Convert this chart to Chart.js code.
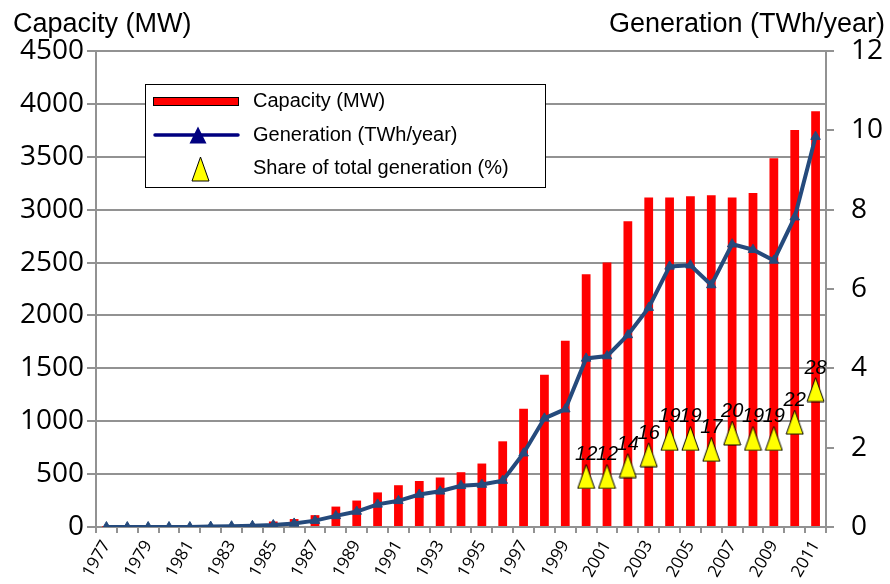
<!DOCTYPE html>
<html>
<head>
<meta charset="utf-8">
<script src="https://cdn.jsdelivr.net/npm/chart.js@4"></script>
<style>
  body { margin: 0; background: #fff; }
  canvas { display: block; }
</style>
</head>
<body>
<canvas id="myChart" width="890" height="584"></canvas>
<script>
const years = ["1977", "1978", "1979", "1980", "1981", "1982", "1983", "1984", "1985", "1986",
    "1987", "1988", "1989", "1990", "1991", "1992", "1993", "1994", "1995", "1996",
    "1997", "1998", "1999", "2000", "2001", "2002", "2003", "2004", "2005", "2006",
    "2007", "2008", "2009", "2010", "2011"];

// MW, left axis
const capacity = [2, 2, 2, 2, 3, 5, 10, 20, 52, 75,
    112, 193, 250, 327, 395, 435, 468, 518, 600, 810,
    1118, 1440, 1760, 2390, 2500, 2890, 3116, 3116, 3128, 3137,
    3116, 3157, 3485, 3752, 3931];

// TWh/year, right axis
const generation = [0, 0, 0, 0, 0, 0.01, 0.02, 0.03, 0.05, 0.09,
    0.16, 0.28, 0.39, 0.57, 0.66, 0.82, 0.9, 1.04, 1.07, 1.17,
    1.86, 2.74, 2.97, 4.25, 4.31, 4.84, 5.53, 6.57, 6.6, 6.1,
    7.13, 6.99, 6.72, 7.81, 9.84];

// % of total generation
const share = [null, null, null, null, null, null, null, null, null, null,
    null, null, null, null, null, null, null, null, null, null,
    null, null, null, 12, 12, 14, 16, 19, 19, 17,
    20, 19, 19, 22, 28];

const leftTicks = [0, 500, 1000, 1500, 2000, 2500, 3000, 3500, 4000, 4500];
const rightTicks = [0, 2, 4, 6, 8, 10, 12];

const legendLabels = ["Capacity (MW)", "Generation (TWh/year)", "Share of total generation (%)"];
const leftTitle = "Capacity (MW)";
const rightTitle = "Generation (TWh/year)";

const gridGray = '#929292';
const lineBlue = '#254a7c';

// tall yellow triangle used as point style
function makeTriangle(w, h, fill) {
    const c = document.createElement('canvas');
    c.width = w; c.height = h;
    const g = c.getContext('2d');
    g.beginPath();
    g.moveTo(w / 2, 1);
    g.lineTo(w - 1, h - 1);
    g.lineTo(1, h - 1);
    g.closePath();
    g.fillStyle = fill;
    g.fill();
    g.strokeStyle = '#000';
    g.lineWidth = 1;
    g.stroke();
    return c;
}
const yellowTri = makeTriangle(19, 26, '#ffff00');

const extras = {
    id: 'extras',
    afterDatasetsDraw(chart) {
        const ctx = chart.ctx;
        // share labels
        const meta = chart.getDatasetMeta(0);
        ctx.save();
        ctx.font = 'italic 20px "Liberation Sans"';
        ctx.fillStyle = '#000';
        ctx.textAlign = 'center';
        ctx.textBaseline = 'alphabetic';
        meta.data.forEach((pt, i) => {
            if (share[i] == null) return;
            ctx.fillText(String(share[i]), pt.x, pt.y - 16);
        });
        ctx.restore();
    },
    afterDraw(chart) {
        const ctx = chart.ctx;
        ctx.save();
        // axis titles
        ctx.font = '27px "Liberation Sans"';
        ctx.fillStyle = '#000';
        ctx.textBaseline = 'alphabetic';
        ctx.textAlign = 'left';
        ctx.fillText(leftTitle, 13, 32);
        ctx.textAlign = 'right';
        ctx.fillText(rightTitle, 885, 32);

        // legend box
        ctx.fillStyle = '#fff';
        ctx.fillRect(145, 84, 400, 103);
        ctx.strokeStyle = '#000';
        ctx.lineWidth = 1;
        ctx.strokeRect(145.5, 84.5, 400, 103);

        // capacity swatch
        ctx.fillStyle = '#ff0000';
        ctx.fillRect(153, 97, 86, 8);
        ctx.strokeStyle = '#000';
        ctx.strokeRect(153.5, 97.5, 85, 8);

        // generation swatch
        ctx.beginPath();
        ctx.strokeStyle = '#000080';
        ctx.lineWidth = 3.5;
        ctx.lineCap = 'round';
        ctx.moveTo(155, 135);
        ctx.lineTo(238, 135);
        ctx.stroke();
        ctx.beginPath();
        ctx.fillStyle = '#000080';
        ctx.moveTo(198, 126.5);
        ctx.lineTo(206.5, 143.5);
        ctx.lineTo(189.5, 143.5);
        ctx.closePath();
        ctx.fill();

        // share swatch
        ctx.drawImage(yellowTri, 191, 156);

        ctx.font = '20px "Liberation Sans"';
        ctx.fillStyle = '#000';
        ctx.textAlign = 'left';
        ctx.fillText(legendLabels[0], 253, 107);
        ctx.fillText(legendLabels[1], 253, 141);
        ctx.fillText(legendLabels[2], 253, 174);
        ctx.restore();
    }
};

const ctx1 = document.getElementById('myChart').getContext('2d');
let chart = new Chart(ctx1, {
    type: 'bar',
    data: {
        labels: years,
        datasets: [
            {
                type: 'line',
                label: legendLabels[2],
                data: share,
                yAxisID: 'yShare',
                showLine: false,
                pointStyle: yellowTri,
                order: 0
            },
            {
                type: 'line',
                label: legendLabels[1],
                data: generation,
                yAxisID: 'yGen',
                borderColor: lineBlue,
                backgroundColor: lineBlue,
                borderWidth: 4,
                tension: 0,
                pointStyle: 'triangle',
                pointRadius: 5.5,
                pointBorderWidth: 1,
                pointBackgroundColor: lineBlue,
                pointBorderColor: lineBlue,
                order: 1
            },
            {
                type: 'bar',
                label: legendLabels[0],
                data: capacity,
                yAxisID: 'y',
                backgroundColor: '#ff0000',
                categoryPercentage: 1,
                barPercentage: 0.42,
                order: 2
            }
        ]
    },
    options: {
        responsive: false,
        animation: false,
        layout: { padding: { top: 51, left: 0, right: 0, bottom: 0 } },
        plugins: {
            legend: { display: false },
            tooltip: { enabled: false },
            title: { display: false }
        },
        scales: {
            x: {
                grid: {
                    offset: true,
                    drawOnChartArea: false,
                    tickLength: 6,
                    color: gridGray,
                    lineWidth: 2
                },
                border: { color: gridGray, width: 2 },
                ticks: {
                    autoSkip: false,
                    minRotation: 60,
                    maxRotation: 60,
                    padding: 4,
                    color: '#000',
                    font: { family: '"Open Sans"', size: 17 },
                    callback: (v, i) => (i % 2 === 0 ? years[i] : '')
                },
                afterFit: (s) => { s.height = 57; }
            },
            y: {
                position: 'left',
                min: leftTicks[0],
                max: leftTicks[leftTicks.length - 1],
                afterBuildTicks: (s) => { s.ticks = leftTicks.map(v => ({ value: v })); },
                grid: { color: gridGray, lineWidth: 2, tickLength: 9 },
                border: { color: gridGray, width: 2 },
                ticks: {
                    padding: 3,
                    color: '#000',
                    font: { family: '"Open Sans"', size: 28 },
                    callback: (v) => String(v)
                },
                afterFit: (s) => { s.width = 96; }
            },
            yGen: {
                position: 'right',
                min: rightTicks[0],
                max: rightTicks[rightTicks.length - 1],
                afterBuildTicks: (s) => { s.ticks = rightTicks.map(v => ({ value: v })); },
                grid: { drawOnChartArea: false, color: gridGray, lineWidth: 2, tickLength: 8 },
                border: { color: gridGray, width: 2 },
                ticks: {
                    padding: 17,
                    color: '#000',
                    font: { family: '"Open Sans"', size: 28 },
                    callback: (v) => String(v)
                },
                afterFit: (s) => { s.width = 64; }
            },
            yShare: {
                display: false,
                min: 2.7,
                max: 90.3
            }
        }
    },
    plugins: [extras]
});
</script>
</body>
</html>
